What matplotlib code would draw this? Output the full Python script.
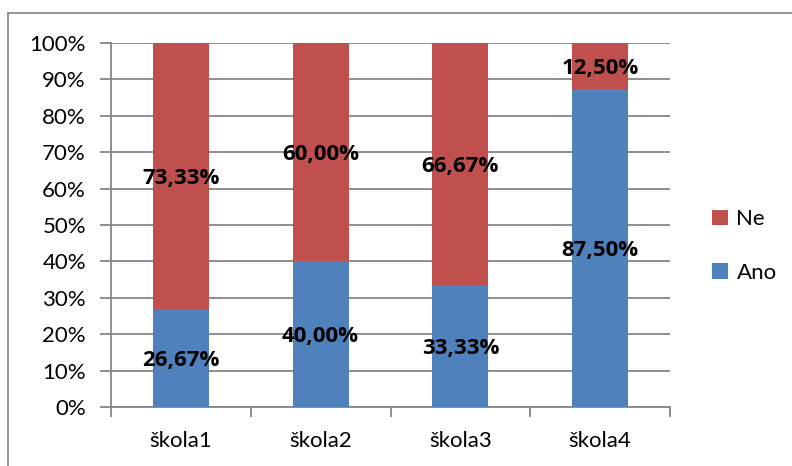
import matplotlib.pyplot as plt
from matplotlib.lines import Line2D

skoly = ['škola1', 'škola2', 'škola3', 'škola4']
ano = [26.67, 40.00, 33.33, 87.50]
ne = [73.33, 60.00, 66.67, 12.50]

c_ano = '#4F81BD'
c_ne = '#C0504D'
grid_c = '#868686'

plt.rcParams['font.family'] = ['Lato', 'DejaVu Sans']

W, H = 792, 466
fig = plt.figure(figsize=(W / 100, H / 100), dpi=100)

# chart border (top and left visible, rest cut off)
fig.add_artist(Line2D([8 / W, 8 / W], [0, 1 - 13 / H], color='#8c8c8c', lw=1.3))
fig.add_artist(Line2D([8 / W, 1], [1 - 13 / H, 1 - 13 / H], color='#8c8c8c', lw=1.3))

ax = fig.add_axes([111 / W, (H - 407) / H, (670 - 111) / W, (407 - 43) / H])

x = list(range(len(skoly)))
b1 = ax.bar(x, ano, width=0.4, color=c_ano, zorder=3, label='Ano')
b2 = ax.bar(x, ne, width=0.4, bottom=ano, color=c_ne, zorder=3, label='Ne')

def fmt(v):
    return '{:.2f}%'.format(v).replace('.', ',')

lab_font = dict(family=['Open Sans', 'DejaVu Sans'], fontsize=16, fontweight='bold')
for i in x:
    ax.text(i, ano[i] / 2, fmt(ano[i]), ha='center', va='center_baseline', zorder=5, **lab_font)
    ax.text(i, ano[i] + ne[i] / 2, fmt(ne[i]), ha='center', va='center_baseline', zorder=5, **lab_font)

ax.set_xlim(-0.5, 3.5)
ax.set_ylim(0, 100)
ax.set_yticks(range(0, 101, 10))
ax.set_yticklabels(['{}%'.format(v) for v in range(0, 101, 10)], fontsize=16)
ax.yaxis.grid(True, color=grid_c, lw=1.3, zorder=0)

ax.set_xticks([-0.5, 0.5, 1.5, 2.5, 3.5])
ax.set_xticklabels([])
ax.set_xticks(x, minor=True)
ax.set_xticklabels(skoly, minor=True, fontsize=16)
ax.tick_params(axis='x', which='minor', length=0, pad=17)
ax.tick_params(axis='x', which='major', length=7, width=1.3, color=grid_c)
ax.tick_params(axis='y', length=8, width=1.3, color=grid_c, pad=10)

for s in ['top', 'right']:
    ax.spines[s].set_visible(False)
for s in ['left', 'bottom']:
    ax.spines[s].set_color(grid_c)
    ax.spines[s].set_linewidth(1.3)

fig.legend(handles=[b2, b1], labels=['Ne', 'Ano'], loc='center left',
           bbox_to_anchor=(692 / W, 1 - 246 / H), frameon=False, fontsize=16,
           handlelength=0.7, handleheight=0.7, handletextpad=0.4,
           labelspacing=1.5)

fig.savefig('out.png', dpi=100)
